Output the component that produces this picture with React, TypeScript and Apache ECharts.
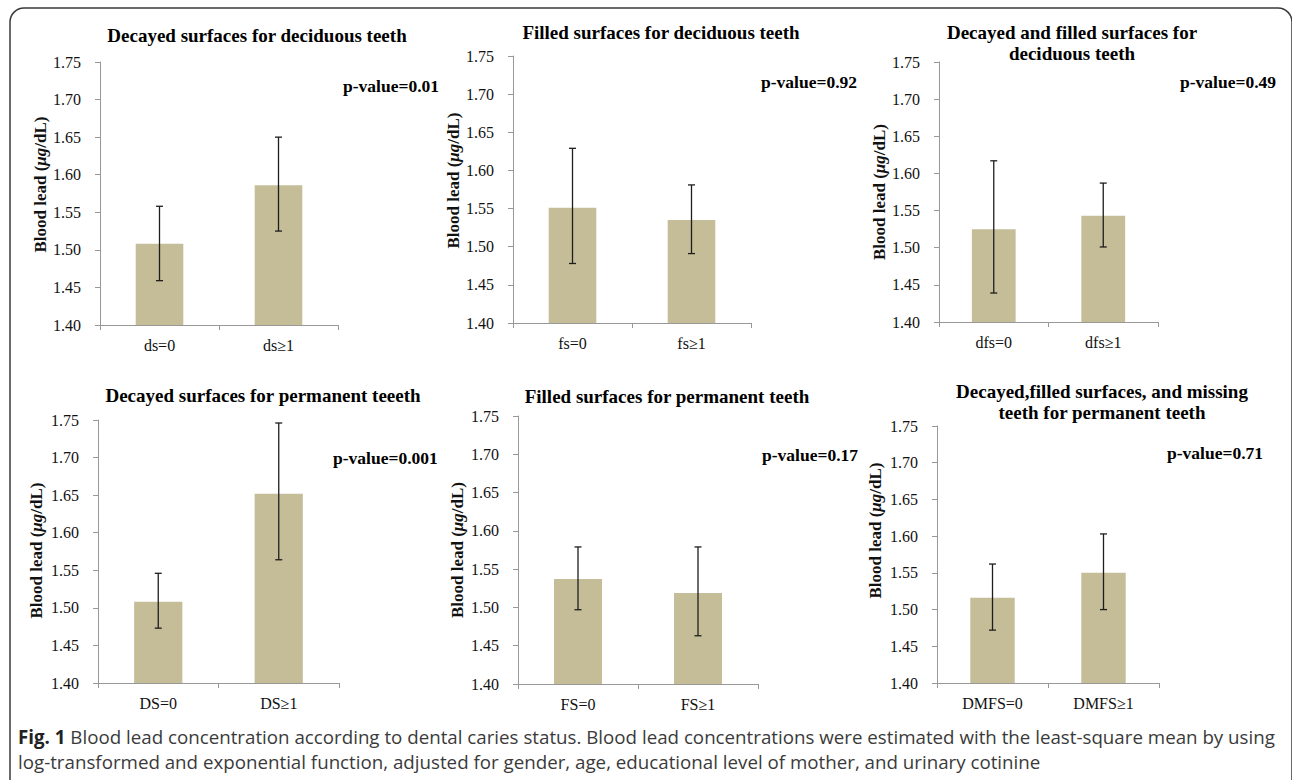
import React, { useEffect, useRef } from "react";
import * as echarts from "echarts";

// ---------- data ----------
const panelTitles = [
  "Decayed surfaces for deciduous teeth",
  "Filled surfaces for deciduous teeth",
  "Decayed and filled surfaces for\ndeciduous teeth",
  "Decayed surfaces for permanent teeeth",
  "Filled surfaces for permanent teeth",
  "Decayed,filled surfaces, and missing\nteeth for permanent teeth",
];
const pValueLabels = [
  "p-value=0.01",
  "p-value=0.92",
  "p-value=0.49",
  "p-value=0.001",
  "p-value=0.17",
  "p-value=0.71",
];
const categories = [
  ["ds=0", "ds≥1"],
  ["fs=0", "fs≥1"],
  ["dfs=0", "dfs≥1"],
  ["DS=0", "DS≥1"],
  ["FS=0", "FS≥1"],
  ["DMFS=0", "DMFS≥1"],
];
const means = [
  [1.508, 1.586],
  [1.551, 1.535],
  [1.525, 1.543],
  [1.508, 1.652],
  [1.537, 1.519],
  [1.516, 1.55],
];
const lower = [
  [1.459, 1.525],
  [1.478, 1.491],
  [1.439, 1.501],
  [1.473, 1.564],
  [1.497, 1.463],
  [1.472, 1.5],
];
const upper = [
  [1.558, 1.65],
  [1.629, 1.581],
  [1.617, 1.587],
  [1.546, 1.746],
  [1.579, 1.579],
  [1.562, 1.603],
];
const yMin = 1.4;
const yMax = 1.75;
const yStep = 0.05;
const yAxisTitle = ["Blood lead (", "μg", "/dL)"];
const captionBold = "Fig. 1";
const captionLine1 =
  " Blood lead concentration according to dental caries status. Blood lead concentrations were estimated with the least-square mean by using";
const captionLine2 =
  "log-transformed and exponential function, adjusted for gender, age, educational level of mother, and urinary cotinine";

// ---------- layout ----------
const grids = [
  { left: 100, top: 62, width: 238, height: 263 },
  { left: 513, top: 56, width: 238, height: 267 },
  { left: 939, top: 62, width: 219, height: 260 },
  { left: 98, top: 420, width: 241, height: 263 },
  { left: 518, top: 416, width: 240, height: 268 },
  { left: 937, top: 426, width: 222, height: 257 },
];
const titlePos = [
  [257, 35],
  [661, 32],
  [1072, 43],
  [263, 395],
  [667, 396],
  [1102, 402],
];
const pPos = [
  [343, 86],
  [761, 82],
  [1180, 82],
  [333, 458],
  [762, 455],
  [1167, 453],
];
const nameGaps = [50, 49, 50, 53, 52, 53];
const nameShift = [9, 9, 0, 1, 0, 24];

const SERIF = '"Liberation Serif", "Times New Roman", serif';
const SANS = '"Open Sans", "Noto Sans", sans-serif';
const BAR = "#C4BD97";
const AXIS = "#989898";

function measure(text: string, font: string): number {
  const c = document.createElement("canvas");
  const ctx = c.getContext("2d");
  if (!ctx) return text.length * 9;
  ctx.font = font;
  return ctx.measureText(text).width;
}

export default function App() {
  const ref = useRef<HTMLDivElement>(null);

  useEffect(() => {
    document.body.style.margin = "0";
    if (!ref.current) return;
    const chart = echarts.init(ref.current, null, { renderer: "svg" });

    const capSize = 19;
    const w =
      measure(captionBold, `bold ${capSize}px "Open Sans"`) +
      measure(captionLine1, `${capSize}px "Open Sans"`);
    const capScale = w > 0 ? 1257 / w : 1;

    const xAxes: any[] = [];
    const yAxes: any[] = [];
    const series: any[] = [];
    const graphics: any[] = [];

    grids.forEach((g, i) => {
      xAxes.push({
        type: "category",
        gridIndex: i,
        data: categories[i],
        axisLine: { lineStyle: { color: AXIS, width: 1 } },
        axisTick: { show: true, length: 5, lineStyle: { color: AXIS } },
        axisLabel: {
          color: "#111",
          fontFamily: SERIF,
          fontSize: 16,
          margin: 12,
        },
      });
      yAxes.push({
        type: "value",
        gridIndex: i,
        min: yMin,
        max: yMax,
        interval: yStep,
        splitLine: { show: false },
        axisLine: { show: true, lineStyle: { color: AXIS, width: 1 } },
        axisTick: { show: true, length: 5, lineStyle: { color: AXIS } },
        axisLabel: {
          color: "#111",
          fontFamily: SERIF,
          fontSize: 16,
          margin: 19,
          formatter: (v: number) => v.toFixed(2),
        },
        name: `{a|${yAxisTitle[0]}}{b|${yAxisTitle[1]}}{a|${yAxisTitle[2]}}`,
        nameLocation: "middle",
        nameGap: nameGaps[i],
        nameTextStyle: {
          padding: [0, 0, 0, nameShift[i] * 2],
          rich: {
            a: {
              fontFamily: SERIF,
              fontSize: 17,
              fontWeight: "bold",
              color: "#111",
            },
            b: {
              fontFamily: SERIF,
              fontSize: 17,
              fontWeight: "bold",
              fontStyle: "italic",
              color: "#111",
            },
          },
        },
      });
      series.push({
        type: "bar",
        xAxisIndex: i,
        yAxisIndex: i,
        data: means[i],
        barWidth: "40%",
        itemStyle: { color: BAR },
        silent: true,
      });
      series.push({
        type: "custom",
        xAxisIndex: i,
        yAxisIndex: i,
        data: categories[i].map((_, k) => [k, lower[i][k], upper[i][k]]),
        encode: { x: 0, y: [1, 2] },
        z: 10,
        silent: true,
        renderItem: (params: any, api: any) => {
          const k = api.value(0);
          const lo = api.coord([k, api.value(1)]);
          const hi = api.coord([k, api.value(2)]);
          const cw = 3.5;
          const st = { stroke: "#1e1e1e", lineWidth: 1.3 };
          return {
            type: "group",
            children: [
              { type: "line", shape: { x1: lo[0], y1: lo[1], x2: hi[0], y2: hi[1] }, style: st },
              { type: "line", shape: { x1: lo[0] - cw, y1: lo[1], x2: lo[0] + cw, y2: lo[1] }, style: st },
              { type: "line", shape: { x1: hi[0] - cw, y1: hi[1], x2: hi[0] + cw, y2: hi[1] }, style: st },
            ],
          };
        },
      });
      graphics.push({
        type: "text",
        x: titlePos[i][0],
        y: titlePos[i][1],
        silent: true,
        style: {
          text: panelTitles[i],
          align: "center",
          verticalAlign: "middle",
          fontFamily: SERIF,
          fontSize: 19,
          fontWeight: "bold",
          lineHeight: 21.5,
          fill: "#000",
        },
      });
      graphics.push({
        type: "text",
        x: pPos[i][0],
        y: pPos[i][1],
        silent: true,
        style: {
          text: pValueLabels[i],
          align: "left",
          verticalAlign: "middle",
          fontFamily: SERIF,
          fontSize: 17.5,
          fontWeight: "bold",
          fill: "#000",
        },
      });
    });

    graphics.push({
      type: "rect",
      silent: true,
      shape: { x: 10, y: 8, width: 1282, height: 800, r: 14 },
      style: { fill: "none", stroke: "#3a3a3a", lineWidth: 1.5 },
    });
    graphics.push({
      type: "text",
      x: 18,
      y: 737,
      scaleX: capScale,
      silent: true,
      style: {
        text: `{b|${captionBold}}${captionLine1}`,
        verticalAlign: "middle",
        fontFamily: SANS,
        fontSize: capSize,
        fill: "#3a3a3a",
        rich: {
          b: { fontFamily: SANS, fontSize: capSize, fontWeight: "bold", fill: "#222" },
        },
      },
    });
    graphics.push({
      type: "text",
      x: 18,
      y: 762,
      scaleX: capScale,
      silent: true,
      style: {
        text: captionLine2,
        verticalAlign: "middle",
        fontFamily: SANS,
        fontSize: capSize,
        fill: "#3a3a3a",
      },
    });

    chart.setOption({
      animation: false,
      backgroundColor: "#fff",
      grid: grids.map((g) => ({ ...g, containLabel: false })),
      xAxis: xAxes,
      yAxis: yAxes,
      series,
      graphic: graphics,
    });

    return () => chart.dispose();
  }, []);

  return <div ref={ref} style={{ width: 1292, height: 780 }} />;
}
